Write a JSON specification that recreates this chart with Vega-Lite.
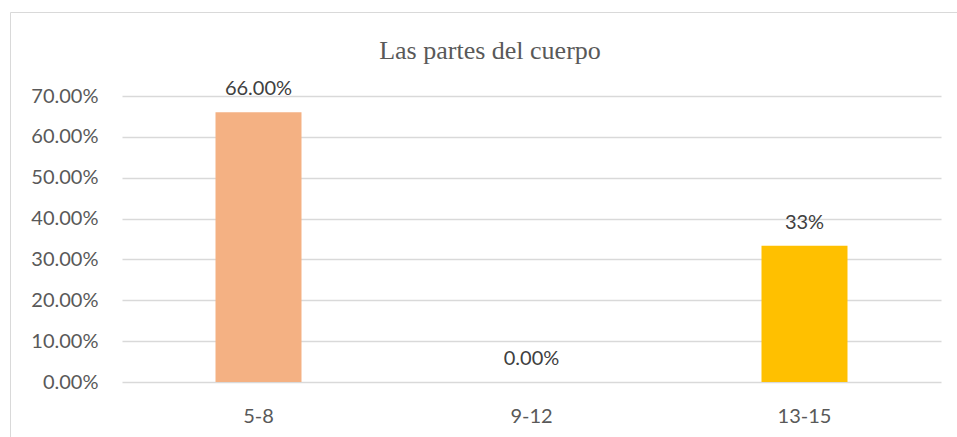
{
  "$schema": "https://vega.github.io/schema/vega-lite/v6.json",
  "width": 947,
  "height": 425,
  "autosize": {"type": "none"},
  "padding": {"left": 10, "top": 12, "right": 0, "bottom": 0},
  "background": "white",
  "config": {
    "view": {"stroke": "#d9d9d9", "strokeWidth": 1},
    "font": "Lato"
  },
  "title": {
    "text": "Las partes del cuerpo",
    "font": "Liberation Serif",
    "fontSize": 26,
    "fontWeight": "normal",
    "color": "#595959",
    "anchor": "middle",
    "dx": 6.5,
    "offset": -52
  },
  "data": {
    "values": [
      {"grupo": "5-8", "valor": 0.66, "etiqueta": "66.00%"},
      {"grupo": "9-12", "valor": 0, "etiqueta": "0.00%"},
      {"grupo": "13-15", "valor": 0.3333, "etiqueta": "33%"}
    ]
  },
  "encoding": {
    "x": {
      "field": "grupo",
      "type": "nominal",
      "sort": null,
      "scale": {"range": [112, 931], "paddingInner": 0, "paddingOuter": 0},
      "axis": {
        "title": null,
        "domain": false,
        "ticks": false,
        "grid": false,
        "labelAngle": 0,
        "labelPadding": 24,
        "labelFontSize": 20,
        "labelColor": "#595959",
        "offset": -55
      }
    },
    "y": {
      "field": "valor",
      "type": "quantitative",
      "scale": {"domain": [0, 0.7], "range": [370, 84], "nice": false},
      "axis": {
        "title": null,
        "domain": false,
        "ticks": false,
        "values": [0, 0.1, 0.2, 0.3, 0.4, 0.5, 0.6, 0.7],
        "format": ".2%",
        "grid": true,
        "gridColor": "#d9d9d9",
        "gridWidth": 1.5,
        "labelPadding": 24,
        "labelFontSize": 20,
        "labelColor": "#595959",
        "offset": -112
      }
    }
  },
  "layer": [
    {
      "mark": {"type": "bar", "width": {"band": 0.315}},
      "encoding": {
        "color": {
          "field": "grupo",
          "type": "nominal",
          "scale": {"domain": ["5-8", "9-12", "13-15"], "range": ["#F4B183", "#A5A5A5", "#FFC000"]},
          "legend": null
        }
      }
    },
    {
      "mark": {"type": "text", "dy": -17, "baseline": "alphabetic", "fontSize": 20, "color": "#404040"},
      "encoding": {"text": {"field": "etiqueta"}}
    }
  ]
}
